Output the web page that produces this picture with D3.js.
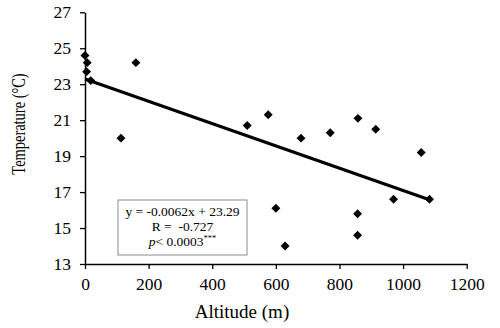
<!DOCTYPE html>
<html>
<head>
<meta charset="utf-8">
<script src="https://cdn.jsdelivr.net/npm/d3@7"></script>
<style>
  body { margin: 0; background: #fff; }
  text { font-family: "Liberation Serif", "Times New Roman", serif; fill: #000; }
</style>
</head>
<body>
<svg id="bg" width="500" height="328"></svg>
<script>
// altitude (m) and temperature (°C)
var altitude = [0, 7, 5, 18, 160, 113, 510, 576, 679, 771, 858, 914, 1057, 600, 629, 857, 857, 970, 1083];
var temperature = [24.6, 24.2, 23.7, 23.2, 24.2, 20.0, 20.7, 21.3, 20.0, 20.3, 21.1, 20.5, 19.2, 16.1, 14.0, 15.8, 14.6, 16.6, 16.6];

var xTicks = [0, 200, 400, 600, 800, 1000, 1200];
var yTicks = [13, 15, 17, 19, 21, 23, 25, 27];

// regression from the chart
var slope = -0.0062;
var intercept = 23.29;
var statLines = ['y = -0.0062x + 23.29', 'R =  -0.727'];

var xScale = d3.scaleLinear()
  .domain([0, 1200])
  .range([85, 466.7]);

var yScale = d3.scaleLinear()
  .domain([13, 27])
  .range([264, 12.3]);

var svg = d3.select('#bg');

var points = altitude.map(function(a, i) {
  return { x: a, y: temperature[i] };
});

// axes
var gx = svg.append('g')
  .attr('transform', 'translate(0,' + yScale(13) + ')')
  .call(d3.axisBottom(xScale).tickValues(xTicks).tickFormat(d3.format('d'))
    .tickSize(5).tickSizeOuter(0).tickPadding(9));

var gy = svg.append('g')
  .attr('transform', 'translate(' + xScale(0) + ',0)')
  .call(d3.axisLeft(yScale).tickValues(yTicks).tickFormat(d3.format('d'))
    .tickSize(5).tickSizeOuter(0).tickPadding(9));

[gx, gy].forEach(function(g) {
  g.select('.domain').attr('stroke', '#000').attr('stroke-width', 1.5);
  g.selectAll('.tick line').attr('stroke', '#000').attr('stroke-width', 1.3);
  g.selectAll('.tick text')
    .attr('font-family', '"Liberation Serif", serif')
    .attr('font-size', 17.5)
    .attr('fill', '#000');
});

// trend line
var xMin = d3.min(altitude), xMax = d3.max(altitude);
svg.append('path')
  .datum([xMin, xMax])
  .attr('fill', 'none')
  .attr('stroke', '#000')
  .attr('stroke-width', 3)
  .attr('d', d3.line()
    .x(function(d) { return xScale(d); })
    .y(function(d) { return yScale(slope * d + intercept); })
  );

// points (diamonds)
svg.selectAll('.pt')
  .data(points)
  .join('path')
  .attr('class', 'pt')
  .attr('d', d3.symbol().type(d3.symbolSquare).size(40))
  .attr('fill', '#000')
  .attr('transform', function(d) {
    return 'translate(' + xScale(d.x) + ',' + yScale(d.y) + ') rotate(45)';
  });

// stats box
var box = svg.append('g').attr('transform', 'translate(118,200)');
box.append('rect')
  .attr('width', 129)
  .attr('height', 55)
  .attr('fill', '#fff')
  .attr('stroke', '#8c8c8c')
  .attr('stroke-width', 1);

box.selectAll('.stat')
  .data(statLines)
  .join('text')
  .attr('class', 'stat')
  .attr('x', 64.5)
  .attr('y', function(d, i) { return 16 + i * 15; })
  .attr('text-anchor', 'middle')
  .attr('font-size', 13.5)
  .style('white-space', 'pre')
  .text(function(d) { return d; });

var pText = box.append('text')
  .attr('x', 64.5)
  .attr('y', 46)
  .attr('text-anchor', 'middle')
  .attr('font-size', 13.5);
pText.append('tspan').attr('font-style', 'italic').text('p');
pText.append('tspan').text('< 0.0003');
pText.append('tspan').attr('font-size', 8.5).attr('dy', -5).text('***');

// axis titles
svg.append('text')
  .attr('x', 242)
  .attr('y', 318)
  .attr('text-anchor', 'middle')
  .attr('font-size', 19)
  .text('Altitude (m)');

// the picture is squeezed vertically, so the rotated title is compressed along its length
svg.append('text')
  .attr('transform', 'translate(25,124) rotate(-90) scale(0.76,1)')
  .attr('text-anchor', 'middle')
  .attr('font-size', 19)
  .text('Temperature (°C)');
</script>
</body>
</html>
